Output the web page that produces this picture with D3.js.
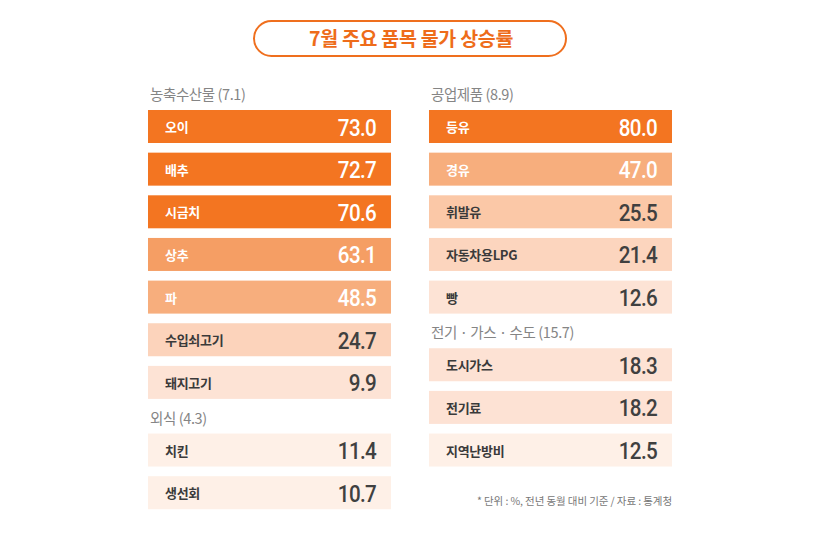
<!DOCTYPE html>
<html>
<head>
<meta charset="utf-8">
<script src="https://cdn.jsdelivr.net/npm/d3@7"></script>
<style>
  body { margin: 0; background: #fff; }
  svg text { font-family: "Noto Sans CJK KR", "Noto Sans", sans-serif; }
  .num { font-family: Roboto, "Noto Sans", sans-serif; }
</style>
</head>
<body>
<div id="chart"></div>
<script>
// Chart data
const title = "7월 주요 품목 물가 상승률";
const groupNames = ["농축수산물", "외식", "공업제품", "전기 · 가스 · 수도"];
const groupRates = [7.1, 4.3, 8.9, 15.7];
const groupColumns = ["left", "left", "right", "right"];

const farmItems = ["오이", "배추", "시금치", "상추", "파", "수입쇠고기", "돼지고기"];
const farmValues = [73.0, 72.7, 70.6, 63.1, 48.5, 24.7, 9.9];
const diningItems = ["치킨", "생선회"];
const diningValues = [11.4, 10.7];
const industryItems = ["등유", "경유", "휘발유", "자동차용LPG", "빵"];
const industryValues = [80.0, 47.0, 25.5, 21.4, 12.6];
const utilityItems = ["도시가스", "전기료", "지역난방비"];
const utilityValues = [18.3, 18.2, 12.5];
const note = "* 단위 : %, 전년 동월 대비 기준 / 자료 : 통계청";

const groupItems = [farmItems, diningItems, industryItems, utilityItems];
const groupValues = [farmValues, diningValues, industryValues, utilityValues];

// Shades used for the bars (the original colours each bar by hand)
const orange = "#f37521";
const shade = {
    "오이": orange, "배추": orange, "시금치": orange, "등유": orange,
    "상추": "#f59e64", "파": "#f7ae7d", "경유": "#f7ae7d",
    "휘발유": "#fbc8a7", "수입쇠고기": "#fcd3bb", "자동차용LPG": "#fcd5be",
    "돼지고기": "#fde3d5", "빵": "#fde3d5", "도시가스": "#fde2d4", "전기료": "#fde2d4",
    "치킨": "#fef0e7", "생선회": "#fef0e7", "지역난방비": "#fef0e7"
};
const darkBars = ["오이", "배추", "시금치", "등유", "상추", "파", "경유"];

const W = 820, H = 537;
const rowStep = 42.65, barH = 33, groupGap = 25;

const svg = d3.select("#chart").append("svg")
    .attr("width", W)
    .attr("height", H);

// Columns
const x = d3.scaleBand()
    .domain(["left", "right"])
    .range([148, 672])
    .paddingInner(0.1352);

// Row slots -> y of bar top
const y = d3.scaleLinear().domain([0, 1]).range([110, 110 + rowStep]);

// Flatten into rows, keeping a slot position per column
const rows = [];
const headers = [];
const slotCount = { left: 0, right: 0 };
const groupCount = { left: 0, right: 0 };
groupNames.forEach((g, gi) => {
    const col = groupColumns[gi];
    const offset = groupCount[col] * groupGap / rowStep;
    headers.push({ name: g, rate: groupRates[gi], col: col, slot: slotCount[col] + offset });
    groupItems[gi].forEach((name, i) => {
        rows.push({ name: name, value: groupValues[gi][i], col: col, slot: slotCount[col] + offset });
        slotCount[col] += 1;
    });
    groupCount[col] += 1;
});

// Title box
const titleG = svg.append("g");
titleG.append("rect")
    .attr("x", 254).attr("y", 21)
    .attr("width", 312).attr("height", 35)
    .attr("rx", 17.5)
    .attr("fill", "#fff")
    .attr("stroke", "#ef6f1e")
    .attr("stroke-width", 2);
titleG.append("text")
    .attr("x", 411).attr("y", 46)
    .attr("text-anchor", "middle")
    .attr("fill", "#ee6c1a")
    .attr("font-size", 19.5)
    .attr("font-weight", 700)
    .attr("letter-spacing", -0.3)
    .text(title);

// Group headers
svg.selectAll(".group-label")
    .data(headers)
    .enter()
    .append("text")
    .attr("class", "group-label")
    .attr("x", d => x(d.col) + 2)
    .attr("y", d => y(d.slot) - 10)
    .attr("fill", "#858585")
    .attr("font-size", 14.5)
    .attr("letter-spacing", -0.4)
    .text(d => `${d.name} (${d.rate})`);

// Bars
const bar = svg.selectAll(".row")
    .data(rows)
    .enter()
    .append("g")
    .attr("class", "row")
    .attr("transform", d => `translate(${x(d.col)},${y(d.slot)})`);

bar.append("rect")
    .attr("width", x.bandwidth())
    .attr("height", barH)
    .attr("fill", d => shade[d.name]);

bar.append("text")
    .attr("x", 17)
    .attr("y", 22)
    .attr("font-size", 13)
    .attr("font-weight", 700)
    .attr("letter-spacing", -0.3)
    .attr("fill", d => darkBars.includes(d.name) ? "#fff" : "#3a3a3a")
    .text(d => d.name);

bar.append("text")
    .attr("class", "num")
    .attr("transform", `translate(${x.bandwidth() - 15},25.5) scale(0.86,1)`)
    .attr("text-anchor", "end")
    .attr("font-size", 24)
    .attr("font-weight", 500)
    .attr("letter-spacing", -0.8)
    .attr("fill", d => darkBars.includes(d.name) ? "#fff" : "#404040")
    .text(d => d3.format(".1f")(d.value));

// Source note
svg.append("text")
    .attr("x", x("right") + x.bandwidth())
    .attr("y", 505)
    .attr("text-anchor", "end")
    .attr("fill", "#777")
    .attr("font-size", 10.5)
    .attr("letter-spacing", -0.1)
    .text(note);
</script>
</body>
</html>
